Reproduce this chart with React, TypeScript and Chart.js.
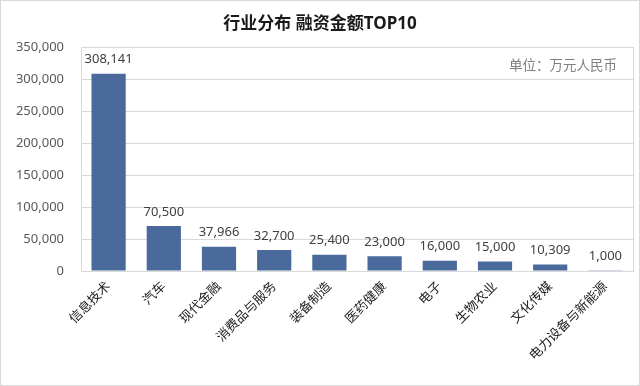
import React, { useEffect, useRef } from "react";
import { Chart, registerables } from "chart.js";

Chart.register(...registerables);

const categories = ["信息技术", "汽车", "现代金融", "消费品与服务", "装备制造", "医药健康", "电子", "生物农业", "文化传媒", "电力设备与新能源"];
const amounts = [308141, 70500, 37966, 32700, 25400, 23000, 16000, 15000, 10309, 1000];
const yTicks = [0, 50000, 100000, 150000, 200000, 250000, 300000, 350000];
const titleText = "行业分布 融资金额TOP10";
const unitText = "单位：万元人民币";

const FONT = '"Noto Sans", "Noto Sans CJK SC", sans-serif';
const fmt = (v: number) => v.toLocaleString("en-US");

const decorPlugin = {
  id: "decor",
  beforeDraw(chart: any) {
    const { ctx, width, height, chartArea } = chart;
    ctx.save();
    ctx.fillStyle = "#ffffff";
    ctx.fillRect(0, 0, width, height);
    ctx.strokeStyle = "#d9d9d9";
    ctx.lineWidth = 1;
    ctx.strokeRect(0.5, 0.5, width - 1, height - 1);
    ctx.restore();
  },
  afterDatasetsDraw(chart: any) {
    const { ctx, chartArea } = chart;
    ctx.save();
    // plot box
    ctx.strokeStyle = "#d9d9d9";
    ctx.lineWidth = 1;
    ctx.strokeRect(Math.round(chartArea.left) + 0.5, Math.round(chartArea.top) + 0.5, Math.round(chartArea.right - chartArea.left), Math.round(chartArea.bottom - chartArea.top));
    // data labels
    const meta = chart.getDatasetMeta(0);
    ctx.fillStyle = "#404040";
    ctx.font = "13px " + FONT;
    ctx.textAlign = "center";
    ctx.textBaseline = "middle";
    meta.data.forEach((el: any, i: number) => {
      ctx.fillText(fmt(amounts[i]), el.x, el.y - 14);
    });
    // title
    ctx.fillStyle = "#1a1a1a";
    ctx.font = "bold 17px " + FONT;
    ctx.textAlign = "center";
    ctx.fillText(titleText, 320, 24);
    // unit
    ctx.fillStyle = "#7f7f7f";
    ctx.font = "13.5px " + FONT;
    ctx.textAlign = "right";
    ctx.fillText(unitText, 617, 66);
    ctx.restore();
  },
};

export default function App() {
  const ref = useRef<HTMLCanvasElement | null>(null);
  useEffect(() => {
    document.body.style.margin = "0";
    const canvas = ref.current!;
    const chart = new Chart(canvas, {
      type: "bar",
      data: {
        labels: categories,
        datasets: [
          {
            data: amounts,
            backgroundColor: "#4a6a9b",
            borderWidth: 0,
            barPercentage: 0.62,
            categoryPercentage: 1,
          },
        ],
      },
      options: {
        responsive: false,
        animation: false,
        layout: { padding: { top: 47, right: 7, left: 0, bottom: 0 } },
        plugins: { legend: { display: false }, tooltip: { enabled: false }, title: { display: false } },
        scales: {
          x: {
            grid: { display: false, drawTicks: false },
            border: { display: true, color: "#d9d9d9" },
            ticks: {
              color: "#222222",
              font: { size: 13, family: FONT },
              maxRotation: 45,
              minRotation: 45,
              padding: 8,
              autoSkip: false,
            },
            afterFit(scale: any) {
              scale.height = 115;
            },
          },
          y: {
            min: 0,
            max: 350000,
            afterBuildTicks(scale: any) {
              scale.ticks = yTicks.map((v) => ({ value: v }));
            },
            grid: { color: "#d9d9d9", drawTicks: false },
            border: { display: false },
            ticks: {
              color: "#595959",
              font: { size: 13, family: FONT },
              padding: 17,
              callback: (v: any) => fmt(Number(v)),
            },
            afterFit(scale: any) {
              scale.width = 81;
            },
          },
        },
      },
      plugins: [decorPlugin],
    });
    return () => chart.destroy();
  }, []);
  return (
    <div style={{ position: "fixed", left: 0, top: 0, width: 640, height: 386 }}>
      <canvas ref={ref} width={640} height={386} style={{ width: 640, height: 386, display: "block" }} />
    </div>
  );
}
